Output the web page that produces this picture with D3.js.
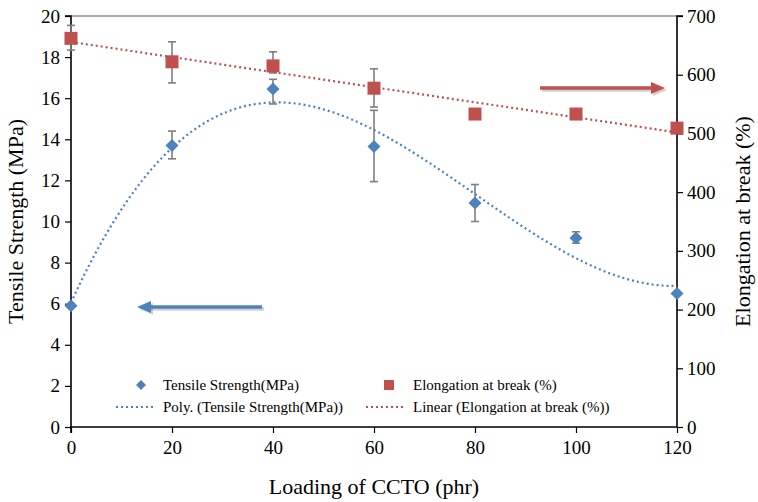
<!DOCTYPE html>
<html>
<head>
<meta charset="utf-8">
<script src="https://cdn.jsdelivr.net/npm/d3@7"></script>
<style>
body { margin: 0; background: #fff; }
svg text { font-family: "Liberation Serif", "Times New Roman", Times, "DejaVu Serif", serif; }
</style>
</head>
<body>
<div id="chart"></div>
<script>
const width = 758;
const height = 502;

const loading = [0, 20, 40, 60, 80, 100, 120];
const tensile = [5.9, 13.7, 16.45, 13.65, 10.9, 9.2, 6.5];
const tensileErrLow = [5.9, 13.05, 15.72, 11.94, 10.0, 8.95, 6.5];
const tensileErrHigh = [5.9, 14.4, 16.92, 15.41, 11.8, 9.5, 6.5];
const elongation = [662, 622, 615, 577, 533, 533, 509];
const elongErrLow = [642, 586, 603, 545, 533, 533, 509];
const elongErrHigh = [684, 656, 639, 610, 533, 533, 509];

const xTicks = [0, 20, 40, 60, 80, 100, 120];
const leftTicks = [0, 2, 4, 6, 8, 10, 12, 14, 16, 18, 20];
const rightTicks = [0, 100, 200, 300, 400, 500, 600, 700];

const blue = "#4F81BD";
const red = "#C0504D";
const serif = "'Liberation Serif', 'Times New Roman', Times, 'DejaVu Serif', serif";

const svg = d3.select("#chart")
    .append("svg")
    .attr("width", width)
    .attr("height", height)
    .attr("font-family", serif);

const x = d3.scaleLinear().domain([0, 120]).range([71, 677]);
const yL = d3.scaleLinear().domain([0, 20]).range([427, 16]);
const yR = d3.scaleLinear().domain([0, 700]).range([427, 16]);

// least squares polynomial fit (like the Excel trendline)
function polyFit(xs, ys, order) {
    const n = order + 1;
    const A = [];
    for (let i = 0; i < n; i++) {
        A.push(new Array(n + 1).fill(0));
        for (let j = 0; j < n; j++) {
            A[i][j] = d3.sum(xs, v => Math.pow(v, i + j));
        }
        A[i][n] = d3.sum(xs, (v, k) => Math.pow(v, i) * ys[k]);
    }
    for (let i = 0; i < n; i++) {
        let p = i;
        for (let r = i + 1; r < n; r++) if (Math.abs(A[r][i]) > Math.abs(A[p][i])) p = r;
        [A[i], A[p]] = [A[p], A[i]];
        for (let r = 0; r < n; r++) {
            if (r === i) continue;
            const f = A[r][i] / A[i][i];
            for (let c = i; c <= n; c++) A[r][c] -= f * A[i][c];
        }
    }
    const coef = A.map((row, i) => row[n] / row[i]);
    return v => coef.reduce((s, c, i) => s + c * Math.pow(v, i), 0);
}

const polyT = polyFit(loading, tensile, 3);
const linE = polyFit(loading, elongation, 1);

// plot top border
svg.append("line")
    .attr("x1", x(0)).attr("x2", x(120))
    .attr("y1", yL(20)).attr("y2", yL(20))
    .attr("stroke", "#595959").attr("stroke-width", 1.2);

// axes
const axB = svg.append("g")
    .attr("transform", `translate(0,${yL(0)})`)
    .call(d3.axisBottom(x).tickValues(xTicks).tickSize(6).tickPadding(8));
const axL = svg.append("g")
    .attr("transform", `translate(${x(0)},0)`)
    .call(d3.axisLeft(yL).tickValues(leftTicks).tickSize(6).tickPadding(5));
const axR = svg.append("g")
    .attr("transform", `translate(${x(120)},0)`)
    .call(d3.axisRight(yR).tickValues(rightTicks).tickSize(6).tickPadding(4));

[axB, axL, axR].forEach(g => {
    g.attr("font-family", serif).attr("font-size", 19);
    g.select(".domain").attr("stroke", "#000").attr("stroke-width", 1.6);
    g.selectAll(".tick line").attr("stroke", "#000").attr("stroke-width", 1.2);
    g.selectAll(".tick text").attr("fill", "#000");
});
axL.select(".domain").attr("d", `M-6,${yL(20)}H0V${yL(0)}`);
axR.select(".domain").attr("d", `M6,${yR(700)}H0V${yR(0)}`);
axB.select(".domain").attr("d", `M${x(0)},6V0H${x(120)}`);

// axis titles
svg.append("text")
    .attr("transform", `translate(23,${(yL(0) + yL(20)) / 2}) rotate(-90)`)
    .attr("text-anchor", "middle")
    .attr("font-size", 22)
    .text("Tensile Strength (MPa)");
svg.append("text")
    .attr("transform", `translate(750,${(yL(0) + yL(20)) / 2}) rotate(-90)`)
    .attr("text-anchor", "middle")
    .attr("font-size", 22)
    .text("Elongation at break (%)");
svg.append("text")
    .attr("x", (x(0) + x(120)) / 2)
    .attr("y", 494)
    .attr("text-anchor", "middle")
    .attr("font-size", 22)
    .text("Loading of CCTO (phr)");

// trendlines
const xs = d3.range(0, 120.01, 1);
svg.append("path")
    .datum(xs)
    .attr("fill", "none")
    .attr("stroke", red)
    .attr("stroke-width", 2.2)
    .attr("stroke-dasharray", "2,3")
    .attr("d", d3.line().x(d => x(d)).y(d => yR(linE(d))));
svg.append("path")
    .datum(xs)
    .attr("fill", "none")
    .attr("stroke", blue)
    .attr("stroke-width", 2.2)
    .attr("stroke-dasharray", "2,3")
    .attr("d", d3.line().x(d => x(d)).y(d => yL(polyT(d))));

// error bars
function errBars(lo, hi, y) {
    const g = svg.append("g").attr("stroke", "#7f7f7f").attr("stroke-width", 1.6);
    loading.forEach((v, i) => {
        if (hi[i] - lo[i] <= 0) return;
        g.append("line").attr("x1", x(v)).attr("x2", x(v)).attr("y1", y(lo[i])).attr("y2", y(hi[i]));
        g.append("line").attr("x1", x(v) - 4).attr("x2", x(v) + 4).attr("y1", y(lo[i])).attr("y2", y(lo[i]));
        g.append("line").attr("x1", x(v) - 4).attr("x2", x(v) + 4).attr("y1", y(hi[i])).attr("y2", y(hi[i]));
    });
}
errBars(elongErrLow, elongErrHigh, yR);
errBars(tensileErrLow, tensileErrHigh, yL);

// markers
svg.selectAll(".sq")
    .data(loading)
    .enter().append("rect")
    .attr("class", "sq")
    .attr("x", d => x(d) - 6.5)
    .attr("y", (d, i) => yR(elongation[i]) - 6.5)
    .attr("width", 13).attr("height", 13)
    .attr("fill", red);
svg.selectAll(".dm")
    .data(loading)
    .enter().append("path")
    .attr("class", "dm")
    .attr("transform", (d, i) => `translate(${x(d)},${yL(tensile[i])}) rotate(45)`)
    .attr("d", d3.symbol().type(d3.symbolSquare).size(85))
    .attr("fill", blue);

// arrows
function arrow(x1, x2, y, color) {
    const dir = Math.sign(x2 - x1);
    const g = svg.append("g");
    [[2, 2, "rgba(0,0,0,0.18)"], [0, 0, color]].forEach(([dx, dy, c]) => {
        g.append("line")
            .attr("x1", x1 + dx).attr("x2", x2 - dir * 12 + dx)
            .attr("y1", y + dy).attr("y2", y + dy)
            .attr("stroke", c).attr("stroke-width", 3.5);
        g.append("path")
            .attr("d", `M${x2 + dx},${y + dy}L${x2 - dir * 14 + dx},${y - 6 + dy}L${x2 - dir * 14 + dx},${y + 6 + dy}Z`)
            .attr("fill", c);
    });
}
arrow(262, 137, 307, blue);
arrow(540, 665, 88, red);

// legend
const leg = svg.append("g");
leg.append("path")
    .attr("transform", "translate(141,385) rotate(45)")
    .attr("d", d3.symbol().type(d3.symbolSquare).size(50))
    .attr("fill", blue);
leg.append("rect").attr("x", 384).attr("y", 380).attr("width", 10).attr("height", 10).attr("fill", red);
leg.append("line").attr("x1", 116).attr("x2", 155).attr("y1", 407).attr("y2", 407)
    .attr("stroke", blue).attr("stroke-width", 2).attr("stroke-dasharray", "2,3");
leg.append("line").attr("x1", 366).attr("x2", 405).attr("y1", 407).attr("y2", 407)
    .attr("stroke", red).attr("stroke-width", 2).attr("stroke-dasharray", "2,3");
const legItems = [
    ["Tensile Strength(MPa)", 163, 385],
    ["Poly. (Tensile Strength(MPa))", 163, 407],
    ["Elongation at break (%)", 413, 385],
    ["Linear (Elongation at break (%))", 413, 407]
];
leg.selectAll(".lt")
    .data(legItems)
    .enter().append("text")
    .attr("class", "lt")
    .attr("x", d => d[1])
    .attr("y", d => d[2])
    .attr("dy", "0.35em")
    .attr("font-size", 15)
    .text(d => d[0]);
</script>
</body>
</html>
